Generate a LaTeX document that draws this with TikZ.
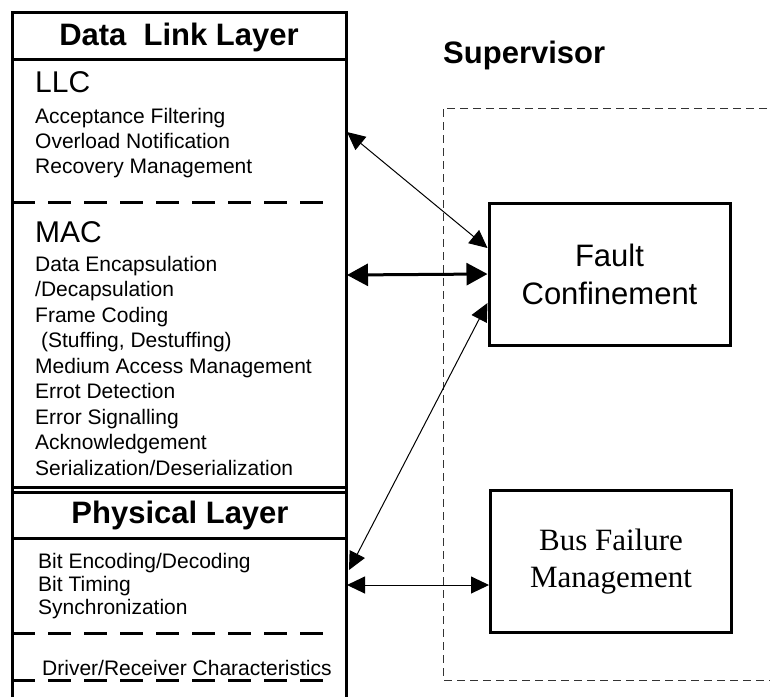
\documentclass[tikz,border=0pt]{standalone}
\usepackage{fontspec}
\setmainfont{Liberation Sans}
\newfontfamily\serifface{Liberation Serif}
\usetikzlibrary{arrows.meta}

\tikzset{
    wall/.style={line width=3pt},
    sep/.style={line width=3pt, dash pattern=on 23pt off 13pt},
    frame/.style={line width=1pt, draw=black!80, dash pattern=on 8pt off 5pt},
    head/.style={font=\fontsize{31}{37}\selectfont\bfseries, inner sep=0pt, anchor=base},
    sub/.style={font=\fontsize{30}{36}\selectfont, inner sep=0pt, anchor=base west},
    item/.style={font=\fontsize{21}{25}\selectfont, inner sep=0pt, anchor=base west},
    unit/.style={draw, line width=3pt, minimum width=241pt, minimum height=142pt, align=center, inner sep=0pt},
    link/.style={<->, >={Triangle[length=18pt, width=17pt]}, line width=1pt},
}

\begin{document}
\begin{tikzpicture}[x=1pt, y=-1pt]
    \clip (0,0) rectangle (770,697);

    \draw[wall] (12,697) |- (346,12) -- (346,697);
    \draw[wall] (12,59) -- (346,59);
    \draw[wall] (12,487) -- (346,487);
    \draw[wall] (12,492) -- (346,492);
    \draw[wall] (12,538) -- (346,538);
    \draw[sep] (12,202) -- (325,202);
    \draw[sep] (12,633) -- (325,633);
    \draw[sep] (12,680) -- (325,680);

    \node[head] (dll) at (179,45) {Data\ \ Link Layer};
    \node[sub] (llc) at (35,92) {LLC};
    \foreach \txt [count=\i] in {Acceptance Filtering, Overload Notification, Recovery Management}
        \node[item] (llc\i) at (35,98+25*\i) {\txt};

    \node[sub] (mac) at (35,242) {MAC};
    \foreach \txt [count=\i] in {Data Encapsulation, /Decapsulation, Frame Coding, {\ (Stuffing, Destuffing)},
        Medium Access Management, Errot Detection, Error Signalling, Acknowledgement,
        Serialization/Deserialization}
        \node[item] (mac\i) at (35,245.5+25.5*\i) {\txt};

    \node[head] (phy) at (180,523) {Physical Layer};
    \foreach \txt [count=\i] in {Bit Encoding/Decoding, Bit Timing, Synchronization}
        \node[item] (phy\i) at (38,545+23*\i) {\txt};
    \node[item] (drv) at (42,675) {Driver/Receiver Characteristics};

    \node[head, anchor=base west] (sup) at (443,63) {Supervisor};
    \draw[frame] (780,108) -| (443,680) -- (780,680);

    \node[unit, font=\fontsize{31}{38}\selectfont] (fault) at (609.5,274) {Fault\\Confinement};
    \node[unit, font=\serifface\fontsize{31}{37}\selectfont] (bus) at (611,561.5) {Bus Failure\\Management};

    \coordinate (llcR) at (347,132);
    \coordinate (macR) at (347,275);
    \coordinate (phyR) at (349,570);
    \coordinate (bitR) at (347,585);

    \draw[link] (llcR) -- ([yshift=26pt]fault.west);
    \draw[link, line width=3pt, >={Triangle[length=21pt, width=22pt]}] (macR) -- (fault.west);
    \draw[link] (phyR) -- ([yshift=-29pt]fault.west);
    \draw[link] (bitR) -- ([yshift=-23.5pt]bus.west);
\end{tikzpicture}
\end{document}
